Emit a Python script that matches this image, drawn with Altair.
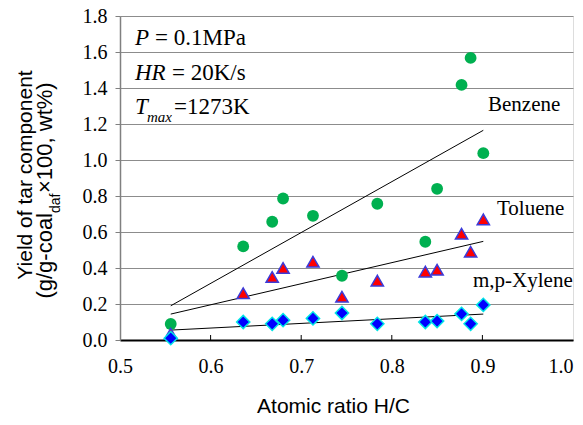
import altair as alt
import pandas as pd

# ---- data ----
hc = [0.556, 0.636, 0.668, 0.680, 0.713, 0.745, 0.784, 0.837, 0.850, 0.877, 0.887, 0.901]
benzene = [0.089, 0.52, 0.657, 0.786, 0.69, 0.357, 0.757, 0.546, 0.84, 1.417, 1.567, 1.038]
toluene = [0.035, 0.26, 0.35, 0.40, 0.435, 0.24, 0.33, 0.38, 0.39, 0.59, 0.49, 0.67]
xylene = [0.01, 0.10, 0.09, 0.11, 0.12, 0.15, 0.09, 0.10, 0.105, 0.145, 0.09, 0.195]

trend_x = [0.556, 0.901]
trend_benzene = [0.19, 1.165]
trend_toluene = [0.144, 0.548]
trend_xylene = [0.055, 0.144]

x_ticks = [0.5, 0.6, 0.7, 0.8, 0.9, 1.0]
y_ticks = [0.0, 0.2, 0.4, 0.6, 0.8, 1.0, 1.2, 1.4, 1.6, 1.8]

W, H = 453, 324
SERIF = "Liberation Serif"
SANS = "Liberation Sans"

x_axis = alt.Axis(values=x_ticks, format=".1f", title="Atomic ratio H/C", grid=False,
                  ticks=False, domainColor="black", domainWidth=2, labelFlush=False,
                  labelAlign=alt.ExprRef(expr="datum.value >= 0.99 ? 'right' : 'center'"),
                  labelFont=SERIF, labelFontSize=20, labelColor="black", labelPadding=16,
                  titleFont=SANS, titleFontSize=21, titleFontWeight="normal", titleColor="black",
                  titlePadding=19, titleX=213)
y_axis = alt.Axis(values=y_ticks, format=".1f", title=None, grid=True, gridColor="#8c8c8c",
                  gridWidth=1.2, domainColor="#808080", domainWidth=1.5, tickColor="#808080",
                  tickSize=5, labelFlush=False, labelFont=SERIF, labelFontSize=20,
                  labelColor="black", labelPadding=8)
x_scale = alt.Scale(domain=[0.5, 1.0], nice=False, zero=False)
y_scale = alt.Scale(domain=[0.0, 1.8], nice=False)


def X(field):
    return alt.X(f"{field}:Q", scale=x_scale, axis=x_axis)


def Y(field):
    return alt.Y(f"{field}:Q", scale=y_scale, axis=y_axis)


df_b = pd.DataFrame({"hc": hc, "y": benzene})
df_t = pd.DataFrame({"hc": hc, "y": toluene})
df_x = pd.DataFrame({"hc": hc, "y": xylene})

trend = pd.DataFrame({
    "hc": trend_x * 3,
    "y": trend_benzene + trend_toluene + trend_xylene,
    "s": ["Benzene"] * 2 + ["Toluene"] * 2 + ["Xylene"] * 2,
})

pts_b = alt.Chart(df_b).mark_point(shape="circle", filled=True, fill="#00b050", size=140,
                                   opacity=1, strokeWidth=0).encode(x=X("hc"), y=Y("y"))
pts_t = alt.Chart(df_t).mark_point(shape="triangle-up", filled=True, fill="#ff0000",
                                   stroke="#3b3bd9", strokeWidth=1.5, size=150,
                                   opacity=1).encode(x=X("hc"), y=Y("y"))
pts_x = alt.Chart(df_x).mark_point(shape="diamond", filled=True, fill="#0000ff",
                                   stroke="#00e5e5", strokeWidth=1.5, size=175,
                                   opacity=1).encode(x=X("hc"), y=Y("y"))

lines = alt.Chart(trend).mark_line(color="black", strokeWidth=1).encode(
    x=X("hc"), y=Y("y"), detail="s:N")

tick_df = pd.DataFrame({"hc": x_ticks[1:-1]})
inner_ticks = alt.Chart(tick_df).mark_rule(color="black", strokeWidth=1).encode(
    x=X("hc"), y=alt.value(H), y2=alt.value(H - 5))


def txt(s, x, y, font=SERIF, size=23, style="normal", align="left", angle=0,
        baseline="middle"):
    return alt.Chart(pd.DataFrame({"t": [s]})).mark_text(
        font=font, fontSize=size, fontStyle=style, align=align, baseline=baseline,
        angle=angle, color="black").encode(x=alt.value(x), y=alt.value(y), text="t:N")


annots = [
    txt("P", 15, 22, style="italic"),
    txt("= 0.1MPa", 35, 22),
    txt("HR", 15, 57, style="italic"),
    txt("= 20K/s", 52, 57),
    txt("T", 15, 91, style="italic"),
    txt("max", 27, 101, size=15, style="italic"),
    txt("=1273K", 54, 91),
    txt("Benzene", 368, 89, size=21),
    txt("Toluene", 377, 193, size=21),
    txt("m,p-Xylene", 353, 265, size=21),
    # y axis title (two lines, with subscript)
    txt("Yield of tar component", -88, 159, font=SANS, size=21, align="center",
        angle=270, baseline="alphabetic"),
    txt("(g/g-coal", -68, 197, font=SANS, size=22, align="right", angle=270,
        baseline="alphabetic"),
    txt("daf", -60, 197, font=SANS, size=14, align="left", angle=270,
        baseline="alphabetic"),
    txt("×100, wt%)", -68, 177, font=SANS, size=22, align="left", angle=270,
        baseline="alphabetic"),
]

chart = alt.layer(lines, pts_b, pts_t, pts_x, inner_ticks, *annots).properties(
    width=W, height=H,
    autosize=alt.AutoSizeParams(type="none"),
    padding={"left": 112, "top": 8, "right": 2, "bottom": 77},
).configure_view(stroke="#808080", strokeWidth=1.5).configure(background="white")

chart.save("out.html", embed_options={"renderer": "svg", "actions": False})
